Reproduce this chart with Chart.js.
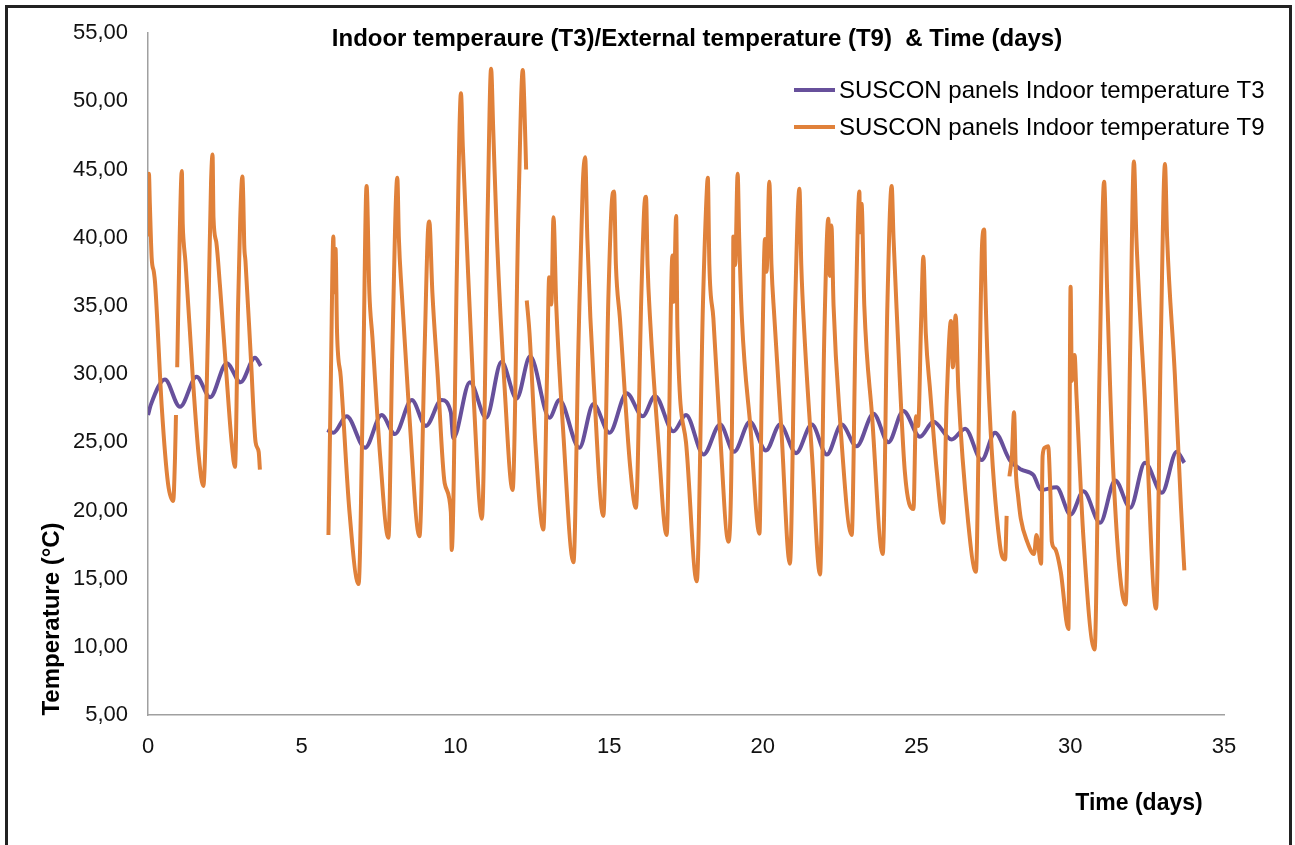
<!DOCTYPE html>
<html>
<head>
<meta charset="utf-8">
<script src="https://cdn.jsdelivr.net/npm/chart.js@4.4.1/dist/chart.umd.min.js"></script>
<style>
  body { margin: 0; background: #fff; overflow: hidden; }
  #wrap { position: relative; width: 1295px; height: 845px; }
  #frame { position: absolute; left: 5px; top: 5px; width: 1287px; height: 900px;
           box-sizing: border-box; border: 3px solid #222; pointer-events: none; }
</style>
</head>
<body>
<div id="wrap">
  <canvas id="chart" width="1295" height="845"></canvas>
  <div id="frame"></div>
</div>
<script>
// Chart texts
const chartTitle = "Indoor temperaure (T3)/External temperature (T9)  & Time (days)";
const xTitle = "Time (days)";
const yTitle = "Temperature (°C)";
const seriesLabels = ["SUSCON panels Indoor temperature T3", "SUSCON panels Indoor temperature T9"];

// T3 (purple) - days and temperatures, null = gap in the record
const t3Days = [
  0.00, 0.10, 0.55, 1.04, 1.58, 2.02, 2.56, 3.01, 3.48, 3.67, 4.70,
  5.83, 6.03, 6.46, 7.06, 7.60, 8.03, 8.58, 9.04, 9.55, 9.85, 9.93,
  10.47, 11.00, 11.50, 11.99, 12.43, 13.06, 13.38, 14.03, 14.49, 15.01,
  15.57, 16.09, 16.49, 17.09, 17.50, 18.07, 18.61, 19.06, 19.58, 20.10,
  20.56, 21.08, 21.59, 22.08, 22.56, 23.05, 23.60, 24.08, 24.57, 25.11,
  25.55, 26.14, 26.58, 27.12, 27.55, 28.03, 28.40, 28.80, 29.05, 29.55,
  30.01, 30.43, 30.97, 31.46, 31.95, 32.43, 32.98, 33.46, 33.71
];
const t3Temps = [
  27.0, 27.8, 29.6, 27.6, 29.8, 28.3, 30.8, 29.4, 31.2, 30.6, null,
  25.9, 25.7, 26.9, 24.6, 27.0, 25.6, 28.1, 26.2, 28.1, 27.2, 25.3,
  29.4, 26.8, 30.9, 28.2, 31.3, 26.8, 28.1, 24.6, 27.8, 25.7,
  28.6, 26.9, 28.4, 25.8, 27.0, 24.1, 26.3, 24.3, 26.5, 24.4,
  26.3, 24.2, 26.3, 24.1, 26.3, 24.7, 27.1, 25.0, 27.3, 25.4,
  26.5, 25.2, 26.0, 23.7, 25.7, 23.7, 23.0, 22.6, 21.5, 21.7,
  19.7, 21.4, 19.1, 22.2, 20.2, 23.5, 21.3, 24.3, 23.5
];

// T9 (orange) - days and temperatures, null = gap in the record
const t9Days = [
  0.00, 0.03, 0.06, 0.12, 0.19, 0.23, 0.45, 0.65, 0.82, 0.88, 0.91, 0.93,
  0.95, 1.03, 1.10, 1.13, 1.16, 1.22, 1.45, 1.65, 1.80,
  1.95, 2.05, 2.10, 2.13, 2.22, 2.34, 2.55, 2.72, 2.83,
  2.93, 3.00, 3.07, 3.10, 3.13, 3.17, 3.35, 3.50, 3.60, 3.64, 4.70,
  5.87, 5.95, 6.03, 6.06, 6.10, 6.15, 6.27, 6.55, 6.85,
  7.00, 7.11, 7.20, 7.30, 7.55, 7.82,
  7.95, 8.11, 8.16, 8.25, 8.50, 8.83,
  9.00, 9.10, 9.15, 9.25, 9.42, 9.65, 9.85, 9.88,
  10.05, 10.18, 10.24, 10.35, 10.60, 10.86,
  11.05, 11.16, 11.23, 11.35, 11.60, 11.86,
  12.05, 12.19, 12.24, 12.30, 12.31,
  12.32, 12.41, 12.60, 12.86,
  12.98, 13.05, 13.12, 13.19, 13.28, 13.50, 13.84,
  14.00, 14.14, 14.22, 14.29, 14.39, 14.50, 14.81,
  14.98, 15.09, 15.16, 15.22, 15.35, 15.68, 15.87,
  16.05, 16.15, 16.20, 16.25, 16.33, 16.60, 16.87,
  17.06, 17.10, 17.18, 17.22, 17.50, 17.85,
  18.05, 18.18, 18.21, 18.26, 18.39, 18.60, 18.88,
  19.03, 19.04, 19.10, 19.18, 19.23, 19.32, 19.60, 19.89,
  19.96, 20.07, 20.12, 20.21, 20.28, 20.37, 20.60, 20.88,
  21.05, 21.19, 21.25, 21.35, 21.60, 21.86,
  22.00, 22.13, 22.18, 22.23, 22.30, 22.50, 22.89,
  23.02, 23.14, 23.16, 23.21, 23.30, 23.55, 23.90,
  24.05, 24.19, 24.25, 24.35, 24.62, 24.90,
  24.98, 25.05, 25.15, 25.22, 25.30, 25.44, 25.66, 25.87,
  25.98, 26.12, 26.18, 26.27, 26.36, 26.68, 26.93,
  27.05, 27.13, 27.20, 27.23, 27.37, 27.71, 27.88, 27.93, 27.98,
  28.02, 28.10, 28.17, 28.23, 28.30, 28.39, 28.60, 28.82, 28.90, 29.05,
  29.10, 29.17, 29.28, 29.35, 29.40, 29.50, 29.69, 29.94,
  30.01, 30.05, 30.14, 30.20, 30.43, 30.79,
  30.95, 31.10, 31.20, 31.40, 31.80,
  31.95, 32.07, 32.15, 32.44, 32.79,
  32.95, 33.08, 33.15, 33.40, 33.60, 33.71
];
const t9Temps = [
  40.1, 44.7, 42.5, 38.5, 37.5, 36.7, 27.5, 22.0, 20.7, 24.0, 27.0, null,
  30.5, 40.0, 44.9, 41.0, 39.7, 38.2, 30.0, 24.0, 21.8,
  33.0, 44.0, 46.1, 41.5, 39.7, 36.5, 30.0, 25.0, 23.2,
  35.0, 41.4, 44.5, 42.8, 39.5, 38.3, 31.0, 25.0, 24.3, 23.0, null,
  18.2, 30.0, 40.1, 36.0, 39.2, 33.0, 29.8, 20.0, 14.6,
  30.0, 43.8, 36.0, 32.7, 24.0, 18.0,
  32.0, 44.4, 40.0, 36.1, 27.0, 18.1,
  32.0, 40.2, 41.2, 36.0, 30.0, 22.0, 19.9, 17.1,
  38.0, 50.6, 46.7, 40.7, 28.0, 19.4,
  42.0, 52.4, 47.9, 40.0, 29.0, 21.5,
  42.0, 52.3, 49.9, 45.0, null,
  35.4, 33.0, 25.0, 18.6,
  30.0, 37.1, 35.1, 41.5, 35.0, 26.0, 16.2,
  32.0, 43.8, 45.9, 40.0, 34.1, 29.3, 19.6,
  36.0, 42.7, 43.4, 38.0, 34.1, 23.3, 20.2,
  36.0, 42.5, 43.0, 38.0, 34.1, 25.0, 18.2,
  38.7, 35.3, 41.6, 33.4, 25.0, 14.8,
  35.0, 43.6, 44.4, 38.0, 34.1, 26.0, 17.7,
  35.0, 40.1, 38.0, 44.7, 40.0, 34.0, 26.0, 18.3,
  28.1, 39.9, 37.5, 44.1, 38.0, 34.3, 26.0, 16.1,
  35.0, 43.6, 38.0, 33.0, 24.0, 15.3,
  33.0, 41.4, 37.2, 40.9, 35.0, 27.0, 18.2,
  34.0, 43.4, 40.4, 42.5, 35.0, 27.0, 16.8,
  35.0, 43.8, 40.0, 34.8, 22.8, 20.1,
  26.9, 26.2, 34.0, 38.6, 33.0, 28.8, 22.8, 19.1,
  28.1, 33.9, 30.5, 34.3, 28.8, 19.1, 15.5,
  30.0, 39.5, 40.6, 37.0, 27.6, 17.5, 16.4, 19.6, null,
  22.5, 24.0, 27.2, 22.8, 21.1, 19.4, 17.7, 16.8, 18.2, 16.1,
  24.0, 24.6, 24.7, 21.5, 17.7, 17.2, 15.5, 11.3,
  36.4, 29.5, 31.4, 28.5, 17.9, 9.8,
  30.0, 44.1, 36.0, 22.8, 13.1,
  32.0, 45.6, 40.0, 27.6, 12.8,
  33.0, 45.4, 40.0, 30.0, 20.3, 15.6
];

const t3Color = "#67509b";
const t9Color = "#e0813a";

function toPoints(days, temps) {
  return days.map((d, i) => ({ x: d, y: temps[i] }));
}

// Title, axis titles and the legend, placed like the original
const textPlugin = {
  id: "texts",
  afterDraw(chart) {
    const ctx = chart.ctx;
    ctx.save();
    ctx.fillStyle = "#000";
    ctx.textAlign = "center";
    ctx.textBaseline = "middle";
    ctx.font = "bold 24px 'Liberation Sans', Arial, sans-serif";
    ctx.fillText(chartTitle, 697, 39);
    ctx.save();
    ctx.translate(52, 619);
    ctx.rotate(-Math.PI / 2);
    ctx.fillText(yTitle, 0, 0);
    ctx.restore();
    ctx.font = "bold 23px 'Liberation Sans', Arial, sans-serif";
    ctx.fillText(xTitle, 1139, 804);

    ctx.font = "24px 'Liberation Sans', Arial, sans-serif";
    ctx.textAlign = "left";
    chart.data.datasets.forEach((ds, i) => {
      let y = 90 + i * 37;
      ctx.strokeStyle = ds.borderColor;
      ctx.lineWidth = 4;
      ctx.beginPath();
      ctx.moveTo(794, y);
      ctx.lineTo(835, y);
      ctx.stroke();
      ctx.fillStyle = "#000";
      ctx.fillText(ds.label, 839, y + 1);
    });
    ctx.restore();
  }
};

new Chart(document.getElementById("chart"), {
  type: "line",
  data: {
    datasets: [
      {
        label: seriesLabels[0],
        data: toPoints(t3Days, t3Temps),
        borderColor: t3Color,
        borderWidth: 4,
        pointRadius: 0,
        cubicInterpolationMode: "monotone",
        order: 2
      },
      {
        label: seriesLabels[1],
        data: toPoints(t9Days, t9Temps),
        borderColor: t9Color,
        borderWidth: 4,
        pointRadius: 0,
        cubicInterpolationMode: "monotone",
        order: 1
      }
    ]
  },
  options: {
    responsive: false,
    animation: false,
    layout: { padding: { left: 0, right: 71, top: 25, bottom: 0 } },
    plugins: {
      legend: { display: false },
      title: { display: false },
      tooltip: { enabled: false }
    },
    scales: {
      x: {
        type: "linear",
        min: 0,
        max: 35,
        afterFit(scale) { scale.height = 130; },
        grid: { display: false, drawTicks: false },
        border: { display: true, color: "#a0a0a0", width: 1.5 },
        ticks: {
          stepSize: 5,
          padding: 19,
          color: "#111",
          font: { family: "'Liberation Sans', Arial, sans-serif", size: 22 },
          maxRotation: 0
        }
      },
      y: {
        min: 5,
        max: 55,
        afterFit(scale) { scale.width = 148; },
        grid: { display: false, drawTicks: false },
        border: { display: true, color: "#a0a0a0", width: 1.5 },
        ticks: {
          stepSize: 5,
          padding: 20,
          color: "#111",
          font: { family: "'Liberation Sans', Arial, sans-serif", size: 22 },
          callback: v => v.toFixed(2).replace(".", ",")
        }
      }
    }
  },
  plugins: [textPlugin]
});
</script>
</body>
</html>
